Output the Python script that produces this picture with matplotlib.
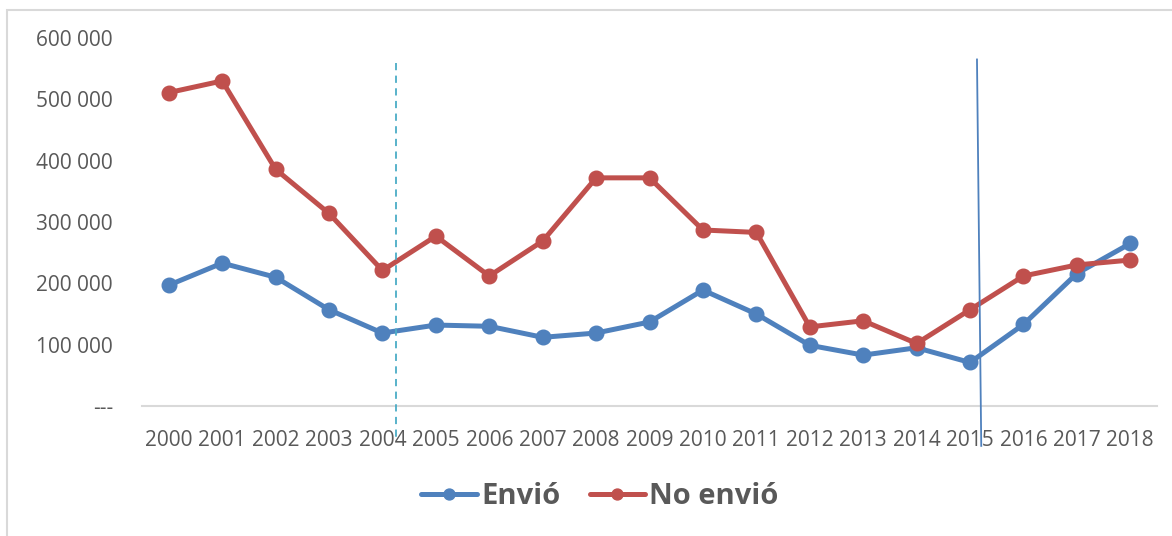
import matplotlib.pyplot as plt
from matplotlib.patches import Rectangle
from matplotlib.ticker import FuncFormatter

years = [str(y) for y in range(2000, 2019)]
envio = [197000, 233000, 210000, 157000, 119000, 132000, 130000, 112000, 119000, 137000,
         189000, 150000, 99000, 83000, 95000, 71000, 133000, 216000, 265000]
no_envio = [511000, 530000, 386000, 314000, 221000, 277000, 212000, 269000, 372000, 372000,
            287000, 283000, 129000, 139000, 102000, 157000, 212000, 230000, 238000]
y_ticks = [0, 100000, 200000, 300000, 400000, 500000, 600000]

plt.rcParams['font.family'] = ['Open Sans', 'DejaVu Sans']

fig = plt.figure(figsize=(11.72, 5.36), dpi=100)
ax = fig.add_axes([0.1212, 0.2425, 0.866, 0.6866])

x = list(range(len(years)))
ax.plot(x, envio, color='#4F81BD', lw=3.6, marker='o', ms=10.5, label='Envió',
        solid_capstyle='round', zorder=3)
ax.plot(x, no_envio, color='#C0504D', lw=3.6, marker='o', ms=10.5, label='No envió',
        solid_capstyle='round', zorder=3)

ax.set_xlim(-0.5, len(years) - 0.5)
ax.set_ylim(0, 600000)
ax.set_xticks(x)
ax.set_xticklabels(years)
ax.set_yticks(y_ticks)
ax.yaxis.set_major_formatter(FuncFormatter(
    lambda v, p: '---' if v == 0 else f'{int(v):,}'.replace(',', ' ')))
ax.tick_params(length=0, labelsize=15, colors='#595959')
ax.tick_params(axis='x', pad=17)
ax.tick_params(axis='y', pad=21)

for s in ['top', 'right', 'left']:
    ax.spines[s].set_visible(False)
ax.spines['bottom'].set_color('#D9D9D9')
ax.spines['bottom'].set_linewidth(1.5)

# marker lines drawn over the chart
ax.plot([4.25, 4.25], [559000, -57000], color='#4BACC6', lw=1.3, ls=(0, (4, 3)),
        clip_on=False, zorder=4)
ax.plot([15.13, 15.21], [565000, -65000], color='#4F81BD', lw=1.3,
        clip_on=False, zorder=4)

leg = fig.legend(loc='center', bbox_to_anchor=(0.512, 0.073), ncol=2, frameon=False,
                 prop={'weight': 'bold', 'size': 21}, handlelength=1.9, handletextpad=0.15,
                 columnspacing=1.0, labelcolor='#595959', markerscale=0.75)

fig.patches.append(Rectangle((0.006, -0.01), 1.0, 0.992, transform=fig.transFigure,
                             fill=False, edgecolor='#D9D9D9', lw=1.5))

fig.savefig('out.png', dpi=100)
